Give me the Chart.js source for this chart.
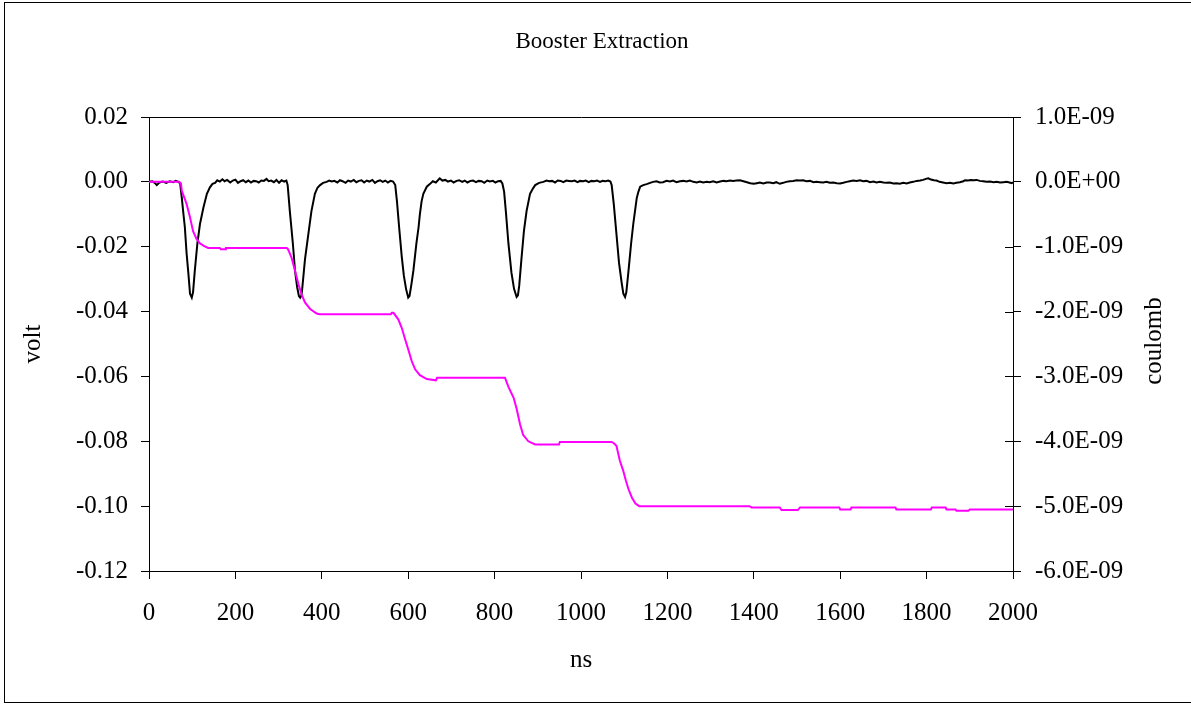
<!DOCTYPE html>
<html><head><meta charset="utf-8">
<script src="https://cdn.jsdelivr.net/npm/chart.js@4/dist/chart.umd.min.js"></script>
<style>html,body{margin:0;padding:0;background:#fff;overflow:hidden}#wrap{width:1191px;height:704px;position:relative}</style>
</head><body><div id="wrap"><canvas id="c" width="1191" height="704"></canvas></div>
<script>
const chartTitle = "Booster Extraction";
const xTitle = "ns";
const yTitle = "volt";
const y2Title = "coulomb";
const xTickValues = [0,200,400,600,800,1000,1200,1400,1600,1800,2000];

const voltNs = [0,8,14,18,24,32,40,48,56,62,68,72,76,79,83,87,91,95,99,102,106,112,118,126,134,141,147,153,158,164,170,175,181,188,194,200,206,212,218,224,230,236,242,248,254,260,266,272,277,283,289,295,301,307,313,318,
321,326,333,338,343,347,350,353,355,361,369,376,384,390,396,403,411,417,423,429,436,442,448,455,461,467,474,480,486,492,498,504,510,517,523,529,535,541,547,553,559,565,
570,574,579,585,590,595,600,603,607,612,619,624,627,631,635,643,650,657,664,673,679,686,692,699,705,712,718,725,731,737,744,750,757,763,770,776,783,789,796,802,808,814,
818,822,826,832,839,845,851,854,857,862,868,874,882,889,894,903,913,920,926,933,940,946,953,959,966,972,979,985,992,998,1005,1011,1018,1024,1031,1037,1044,1050,1057,1063,1068,
1071,1076,1082,1088,1094,1098,1102,1105,1110,1116,1121,1125,1129,1133,1137,1144,1152,1160,1167,1175,1182,1190,1198,1206,1213,1221,1229,1237,1244,1252,1260,1268,1275,1283,1291,1298,1306,1314,1322,1330,1337,1345,1352,1360,1368,1376,1384,1392,1400,1407,1414,1422,1430,1437,1445,1452,1460,1468,1475,1483,1491,1499,1507,1514,1522,1530,1538,1545,1553,1561,1568,1576,1584,1592,1600,1607,1615,1622,1630,1638,1646,1653,1661,1669,1677,1684,1692,1700,1707,1715,1723,1730,1738,1746,1754,1761,1769,1777,1785,1792,1800,1804,1810,1817,1823,1830,1838,1846,1854,1862,1869,1877,1885,1889,1896,1902,1909,1916,1923,1931,1939,1947,1955,1962,1970,1978,1985,1992,1997,2000];

const voltV = [0.0000,0.0002,-0.0004,-0.0010,-0.0002,0.0001,-0.0003,0.0002,-0.0001,0.0003,0.0000,-0.0004,-0.0050,-0.0090,-0.0140,-0.0220,-0.0280,-0.0345,-0.0357,-0.0340,-0.0274,-0.0190,-0.0130,-0.0079,-0.0037,-0.0017,-0.0006,-0.0003,0.0005,0.0001,0.0008,0.0002,0.0006,-0.0002,0.0004,0.0007,-0.0003,0.0002,0.0005,-0.0001,0.0004,-0.0002,0.0003,0.0002,-0.0002,0.0004,0.0003,0.0009,0.0002,0.0004,-0.0001,0.0006,-0.0003,0.0005,0.0001,0.0004,
-0.0010,-0.0090,-0.0190,-0.0274,-0.0325,-0.0352,-0.0357,-0.0350,-0.0325,-0.0240,-0.0160,-0.0090,-0.0037,-0.0018,-0.0010,-0.0003,0.0000,0.0004,0.0001,0.0003,-0.0002,0.0005,0.0002,-0.0003,0.0004,0.0001,0.0006,-0.0001,0.0003,0.0005,-0.0002,0.0004,0.0001,0.0006,-0.0003,0.0002,0.0005,0.0000,0.0004,-0.0002,0.0003,0.0001,
-0.0010,-0.0060,-0.0140,-0.0230,-0.0290,-0.0330,-0.0357,-0.0352,-0.0320,-0.0274,-0.0190,-0.0140,-0.0100,-0.0060,-0.0037,-0.0015,-0.0007,0.0002,-0.0002,0.0011,0.0004,0.0006,0.0001,0.0004,-0.0002,0.0003,0.0005,0.0000,0.0004,-0.0002,0.0003,0.0004,-0.0001,0.0003,0.0002,-0.0003,0.0004,0.0001,0.0003,-0.0002,0.0002,0.0003,
-0.0005,-0.0030,-0.0090,-0.0190,-0.0280,-0.0330,-0.0355,-0.0350,-0.0320,-0.0240,-0.0150,-0.0090,-0.0037,-0.0020,-0.0010,-0.0003,0.0000,0.0004,0.0002,0.0003,-0.0002,0.0004,0.0003,-0.0001,0.0004,0.0003,0.0002,0.0004,-0.0001,0.0003,0.0002,0.0004,-0.0001,0.0003,0.0002,0.0004,0.0000,0.0003,0.0002,0.0004,0.0001,
-0.0010,-0.0070,-0.0160,-0.0250,-0.0310,-0.0345,-0.0355,-0.0340,-0.0274,-0.0190,-0.0130,-0.0090,-0.0050,-0.0030,-0.0015,-0.0010,-0.0007,-0.0003,0.0000,0.0002,-0.0002,-0.0001,0.0003,0.0001,0.0004,-0.0001,0.0002,0.0003,0.0001,0.0004,0.0000,-0.0002,0.0001,-0.0002,0.0000,-0.0001,0.0002,-0.0002,0.0001,0.0003,0.0002,0.0004,0.0003,0.0004,0.0005,0.0002,-0.0001,-0.0004,-0.0006,-0.0004,-0.0002,-0.0005,-0.0002,-0.0002,-0.0004,-0.0001,-0.0006,-0.0003,0.0000,0.0002,0.0003,0.0005,0.0004,0.0005,0.0002,0.0003,-0.0001,0.0000,-0.0001,-0.0002,0.0000,-0.0003,-0.0002,-0.0004,-0.0005,-0.0003,0.0000,0.0002,0.0004,0.0003,0.0005,0.0002,0.0003,-0.0001,0.0001,-0.0002,0.0000,-0.0002,-0.0003,-0.0002,-0.0005,-0.0004,-0.0006,-0.0003,-0.0005,-0.0002,0.0000,0.0003,0.0004,0.0006,0.0010,0.0011,0.0007,0.0005,0.0004,0.0000,-0.0002,-0.0004,-0.0003,-0.0005,-0.0003,-0.0001,0.0002,0.0005,0.0004,0.0006,0.0005,0.0006,0.0003,0.0002,0.0000,0.0001,-0.0001,0.0000,-0.0002,-0.0001,0.0000,-0.0002,-0.0004,-0.0001];

const chargeNs = [0,70,74,76,87,95,102,110,118,128,137,164,166,176,178,319,322,330,338,346,353,361,373,388,395,560,562,566,577,585,593,600,608,616,627,643,664,667,824,832,844,851,859,866,878,894,949,951,1071,1076,1082,1090,1098,1104,1110,1118,1126,1135,1390,1395,1460,1464,1502,1507,1598,1600,1624,1626,1728,1730,1810,1812,1844,1846,1867,1869,1897,1900,2000];
const chargeC = [0,0,-0.03e-9,-0.14e-9,-0.34e-9,-0.55e-9,-0.76e-9,-0.88e-9,-0.95e-9,-0.99e-9,-1.02e-9,-1.02e-9,-1.04e-9,-1.04e-9,-1.02e-9,-1.02e-9,-1.04e-9,-1.17e-9,-1.37e-9,-1.58e-9,-1.73e-9,-1.86e-9,-1.96e-9,-2.03e-9,-2.04e-9,-2.04e-9,-2.02e-9,-2.02e-9,-2.12e-9,-2.25e-9,-2.43e-9,-2.58e-9,-2.76e-9,-2.89e-9,-2.98e-9,-3.04e-9,-3.06e-9,-3.02e-9,-3.02e-9,-3.16e-9,-3.33e-9,-3.50e-9,-3.74e-9,-3.90e-9,-4.00e-9,-4.05e-9,-4.05e-9,-4.01e-9,-4.01e-9,-4.03e-9,-4.07e-9,-4.30e-9,-4.46e-9,-4.61e-9,-4.74e-9,-4.87e-9,-4.96e-9,-5.00e-9,-5.00e-9,-5.02e-9,-5.02e-9,-5.06e-9,-5.06e-9,-5.02e-9,-5.02e-9,-5.05e-9,-5.05e-9,-5.02e-9,-5.02e-9,-5.05e-9,-5.05e-9,-5.02e-9,-5.02e-9,-5.05e-9,-5.05e-9,-5.07e-9,-5.07e-9,-5.05e-9,-5.05e-9];

const FONT = "'Liberation Serif', 'Times New Roman', serif";
Chart.defaults.font.family = FONT;
Chart.defaults.color = '#000';

const voltData = voltNs.map((t,i)=>({x:t,y:voltV[i]}));
const chargeData = chargeNs.map((t,i)=>({x:t,y:chargeC[i]}));

function fmtE(v){
  if (Math.abs(v) < 1e-15) return '0.0E+00';
  const s = v.toExponential(1);
  const m = s.split('e');
  const exp = parseInt(m[1],10);
  const es = (exp<0?'-':'+') + String(Math.abs(exp)).padStart(2,'0');
  return m[0] + 'E' + es;
}

const extras = {
  id:'extras',
  afterDraw(chart){
    const ctx = chart.ctx;
    const ca = chart.chartArea;
    ctx.save();
    ctx.strokeStyle = '#000';
    ctx.lineWidth = 1;
    ctx.strokeRect(4.5, 2.5, 1210, 700);
    ctx.beginPath();
    ctx.moveTo(Math.round(ca.left)+0.5, Math.round(ca.top)+0.5);
    ctx.lineTo(Math.round(ca.right)+0.5, Math.round(ca.top)+0.5);
    ctx.stroke();
    const y2 = chart.scales.y2;
    ctx.beginPath();
    y2.ticks.forEach(t=>{
      const py = Math.round(y2.getPixelForValue(t.value))+0.5;
      ctx.moveTo(Math.round(ca.right)-8, py);
      ctx.lineTo(Math.round(ca.right)+1, py);
    });
    ctx.stroke();
    ctx.fillStyle = '#000';
    ctx.textAlign = 'center';
    ctx.textBaseline = 'middle';
    ctx.font = '23px ' + FONT;
    ctx.fillText(chartTitle, 602, 42);
    ctx.font = '25px ' + FONT;
    ctx.fillText(xTitle, 581, 660);
    ctx.save();
    ctx.translate(33, 344); ctx.rotate(-Math.PI/2);
    ctx.fillText(yTitle, 0, 0);
    ctx.restore();
    ctx.save();
    ctx.translate(1154, 341); ctx.rotate(-Math.PI/2);
    ctx.fillText(y2Title, 0, 0);
    ctx.restore();
    ctx.restore();
  }
};

const gridOpts = {display:true, drawOnChartArea:false, drawTicks:true, tickLength:8, color:'#000', lineWidth:1};

new Chart(document.getElementById('c'), {
  type:'line',
  data:{datasets:[
    {label:'charge', data:chargeData, yAxisID:'y2', borderColor:'#FF00FF', borderWidth:2, pointRadius:0, tension:0, fill:false},
    {label:'volt', data:voltData, yAxisID:'y', borderColor:'#000000', borderWidth:2, pointRadius:0, tension:0, fill:false}
  ]},
  options:{
    responsive:false, animation:false, devicePixelRatio:1,
    layout:{padding:{left:0,right:0,top:117,bottom:0}},
    plugins:{legend:{display:false}, title:{display:false}, tooltip:{enabled:false}},
    scales:{
      x:{type:'linear', position:'bottom', min:0, max:2000,
        afterBuildTicks(s){ s.ticks = xTickValues.map(v=>({value:v})); },
        ticks:{font:{size:25}, color:'#000', padding:19, maxRotation:0, autoSkip:false, callback:v=>String(v)},
        grid:gridOpts, border:{display:true,color:'#000',width:1},
        afterFit(s){ s.height = 133; }
      },
      y:{type:'linear', position:'left', min:-0.12, max:0.02,
        ticks:{stepSize:0.02, font:{size:25}, color:'#000', padding:13, callback:v=> (Math.abs(v)<1e-9?0:v).toFixed(2)},
        grid:gridOpts, border:{display:true,color:'#000',width:1},
        afterFit(s){ s.width = 149; }
      },
      y2:{type:'linear', position:'right', min:-6e-9, max:1e-9,
        ticks:{stepSize:1e-9, font:{size:25}, color:'#000', padding:14, callback:v=>fmtE(v)},
        grid:gridOpts, border:{display:true,color:'#000',width:1},
        afterFit(s){ s.width = 178; }
      }
    }
  },
  plugins:[extras]
});
</script>
</body></html>
